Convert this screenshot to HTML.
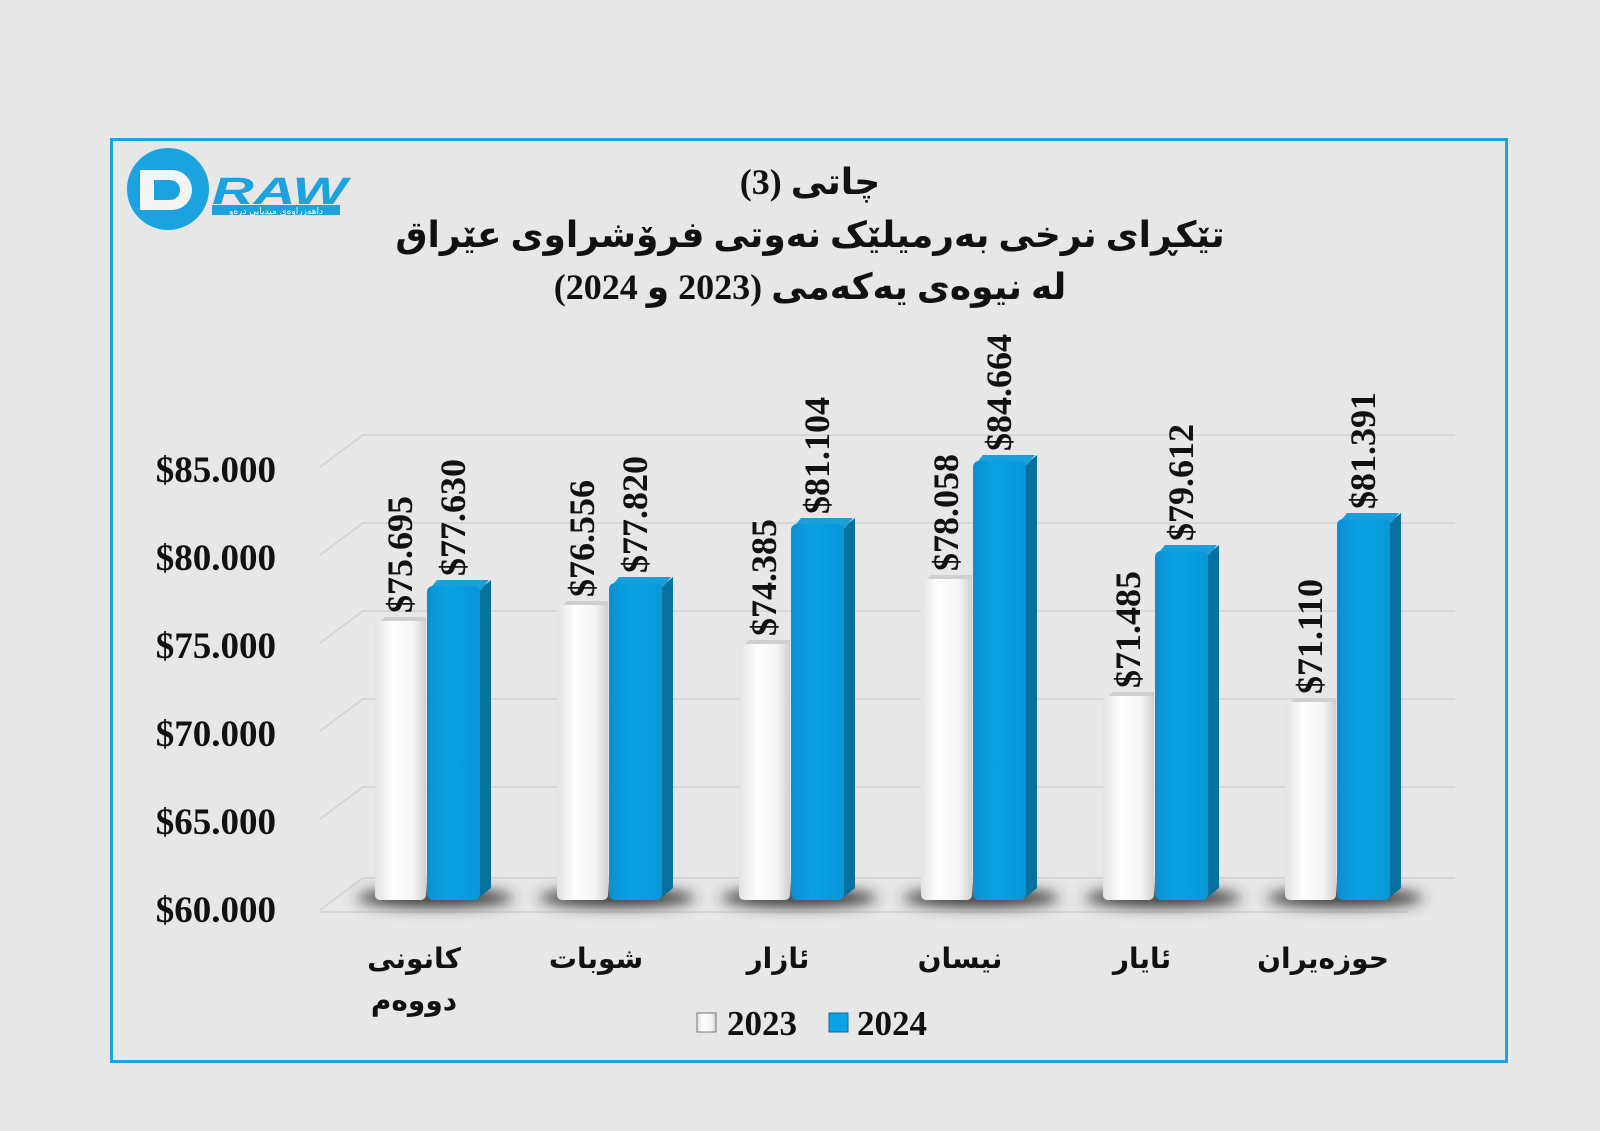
<!DOCTYPE html>
<html><head><meta charset="utf-8"><style>
html,body{margin:0;padding:0;background:#e7e7e7;}
svg{display:block}
.t{font-family:"Liberation Serif","DejaVu Sans",serif;font-weight:bold;fill:#111}
.a{font-family:"Liberation Sans","DejaVu Sans",sans-serif;font-weight:bold;fill:#111}
</style></head><body>
<svg width="1600" height="1131" viewBox="0 0 1600 1131" xmlns="http://www.w3.org/2000/svg">
<defs>
<linearGradient id="wg" x1="0" x2="1"><stop offset="0" stop-color="#e2e2e2"/><stop offset="0.35" stop-color="#ffffff"/><stop offset="0.75" stop-color="#f4f4f4"/><stop offset="1" stop-color="#d0d0d0"/></linearGradient>
<linearGradient id="bg" x1="0" x2="1"><stop offset="0" stop-color="#0b8fd0"/><stop offset="0.4" stop-color="#0aa2e4"/><stop offset="1" stop-color="#0897d8"/></linearGradient>
<filter id="bl" x="-50%" y="-200%" width="200%" height="500%"><feGaussianBlur stdDeviation="7"/></filter>
</defs>
<rect width="1600" height="1131" fill="#e7e7e7"/>
<rect x="111.5" y="139.5" width="1395" height="922" fill="#e7e7e7" stroke="#1ba3df" stroke-width="3"/>
<circle cx="168" cy="189" r="41" fill="#1ba3df"/>
<path d="M140 170 h32 a20 20 0 0 1 0 40 h-32 z M154 180 v20 h16 a10 10 0 0 0 0 -20 z" fill="#f4f4f4" fill-rule="evenodd"/>
<text x="212" y="204" class="a" style="font-size:38px;fill:#1ba3df;font-style:italic" textLength="135" lengthAdjust="spacingAndGlyphs">RAW</text>
<rect x="212" y="205" width="128" height="10" fill="#1ba3df"/>
<text x="276" y="214" text-anchor="middle" style="font-size:9px;fill:#fff;font-family:'DejaVu Sans',sans-serif">داهەزراوەی میدیایی درەو</text>
<text x="810" y="194" text-anchor="middle" class="t" style="font-size:36px">چاتی (3)</text>
<text x="810" y="247" text-anchor="middle" class="t" style="font-size:36px">تێکڕای نرخی بەرمیلێک نەوتی فرۆشراوی عێراق</text>
<text x="810" y="299" text-anchor="middle" class="t" style="font-size:36px">لە نیوەی یەکەمی (2023 و 2024)</text>
<g stroke="#d2d2d2" stroke-width="1.5" fill="none">
<path d="M320 467 L363 435 H1455"/>
<path d="M320 555 L363 523 H1455"/>
<path d="M320 643 L363 611 H1455"/>
<path d="M320 731 L363 699 H1455"/>
<path d="M320 819 L363 787 H1455"/>
<path d="M320 910 L363 878 H1455"/>
<path d="M320 912 H1408"/>
</g>
<g class="t" style="font-size:37px" text-anchor="end">
<text x="276" y="482">$85.000</text>
<text x="276" y="570">$80.000</text>
<text x="276" y="658">$75.000</text>
<text x="276" y="746">$70.000</text>
<text x="276" y="834">$65.000</text>
<text x="276" y="922">$60.000</text>
</g>
<g fill="#333" filter="url(#bl)">
<ellipse cx="435" cy="898" rx="78" ry="9"/>
<ellipse cx="617" cy="898" rx="78" ry="9"/>
<ellipse cx="799" cy="898" rx="78" ry="9"/>
<ellipse cx="981" cy="898" rx="78" ry="9"/>
<ellipse cx="1163" cy="898" rx="78" ry="9"/>
<ellipse cx="1345" cy="898" rx="78" ry="9"/>
</g>

<g transform="translate(375,0)">
<path d="M0 627 l10 -10 h41 v10 z" fill="#cfcfcf"/>
<rect x="0" y="621" width="51" height="279" rx="5" fill="url(#wg)"/>
<path d="M104 590 l12 -10 v308 l-12 10 z" fill="#06709f"/>
<path d="M52 592 l10 -12 h52 l-8 10 z" fill="#1a9fd8"/>
<rect x="52" y="586" width="53" height="314" rx="6" fill="url(#bg)"/>
<text class="t" style="font-size:36px" transform="translate(37,613) rotate(-90)">$75.695</text>
<text class="t" style="font-size:36px" transform="translate(90,576) rotate(-90)">$77.630</text>
</g>
<g transform="translate(557,0)">
<path d="M0 611 l10 -10 h41 v10 z" fill="#cfcfcf"/>
<rect x="0" y="605" width="51" height="295" rx="5" fill="url(#wg)"/>
<path d="M104 587 l12 -10 v311 l-12 10 z" fill="#06709f"/>
<path d="M52 589 l10 -12 h52 l-8 10 z" fill="#1a9fd8"/>
<rect x="52" y="583" width="53" height="317" rx="6" fill="url(#bg)"/>
<text class="t" style="font-size:36px" transform="translate(37,597) rotate(-90)">$76.556</text>
<text class="t" style="font-size:36px" transform="translate(90,573) rotate(-90)">$77.820</text>
</g>
<g transform="translate(739,0)">
<path d="M0 650 l10 -10 h41 v10 z" fill="#cfcfcf"/>
<rect x="0" y="644" width="51" height="256" rx="5" fill="url(#wg)"/>
<path d="M104 528 l12 -10 v370 l-12 10 z" fill="#06709f"/>
<path d="M52 530 l10 -12 h52 l-8 10 z" fill="#1a9fd8"/>
<rect x="52" y="524" width="53" height="376" rx="6" fill="url(#bg)"/>
<text class="t" style="font-size:36px" transform="translate(37,636) rotate(-90)">$74.385</text>
<text class="t" style="font-size:36px" transform="translate(90,514) rotate(-90)">$81.104</text>
</g>
<g transform="translate(921,0)">
<path d="M0 585 l10 -10 h41 v10 z" fill="#cfcfcf"/>
<rect x="0" y="579" width="51" height="321" rx="5" fill="url(#wg)"/>
<path d="M104 465 l12 -10 v433 l-12 10 z" fill="#06709f"/>
<path d="M52 467 l10 -12 h52 l-8 10 z" fill="#1a9fd8"/>
<rect x="52" y="461" width="53" height="439" rx="6" fill="url(#bg)"/>
<text class="t" style="font-size:36px" transform="translate(37,571) rotate(-90)">$78.058</text>
<text class="t" style="font-size:36px" transform="translate(90,451) rotate(-90)">$84.664</text>
</g>
<g transform="translate(1103,0)">
<path d="M0 702 l10 -10 h41 v10 z" fill="#cfcfcf"/>
<rect x="0" y="696" width="51" height="204" rx="5" fill="url(#wg)"/>
<path d="M104 555 l12 -10 v343 l-12 10 z" fill="#06709f"/>
<path d="M52 557 l10 -12 h52 l-8 10 z" fill="#1a9fd8"/>
<rect x="52" y="551" width="53" height="349" rx="6" fill="url(#bg)"/>
<text class="t" style="font-size:36px" transform="translate(37,688) rotate(-90)">$71.485</text>
<text class="t" style="font-size:36px" transform="translate(90,541) rotate(-90)">$79.612</text>
</g>
<g transform="translate(1285,0)">
<path d="M0 708 l10 -10 h41 v10 z" fill="#cfcfcf"/>
<rect x="0" y="702" width="51" height="198" rx="5" fill="url(#wg)"/>
<path d="M104 523 l12 -10 v375 l-12 10 z" fill="#06709f"/>
<path d="M52 525 l10 -12 h52 l-8 10 z" fill="#1a9fd8"/>
<rect x="52" y="519" width="53" height="381" rx="6" fill="url(#bg)"/>
<text class="t" style="font-size:36px" transform="translate(37,694) rotate(-90)">$71.110</text>
<text class="t" style="font-size:36px" transform="translate(90,509) rotate(-90)">$81.391</text>
</g>

<g class="a" style="font-size:28px" text-anchor="middle">
<text x="414" y="968">كانونی</text>
<text x="414" y="1010">دووەم</text>
<text x="596" y="968">شوبات</text>
<text x="778" y="968">ئازار</text>
<text x="960" y="968">نیسان</text>
<text x="1142" y="968">ئایار</text>
<text x="1323" y="968">حوزەیران</text>
</g>
<rect x="697" y="1013" width="19" height="19" fill="url(#wg)" stroke="#777"/>
<text x="727" y="1035" class="t" style="font-size:35px">2023</text>
<rect x="829" y="1013" width="19" height="19" fill="#0aa2e4" stroke="#0a6f9f"/>
<text x="857" y="1035" class="t" style="font-size:35px">2024</text>
</svg>
</body></html>
